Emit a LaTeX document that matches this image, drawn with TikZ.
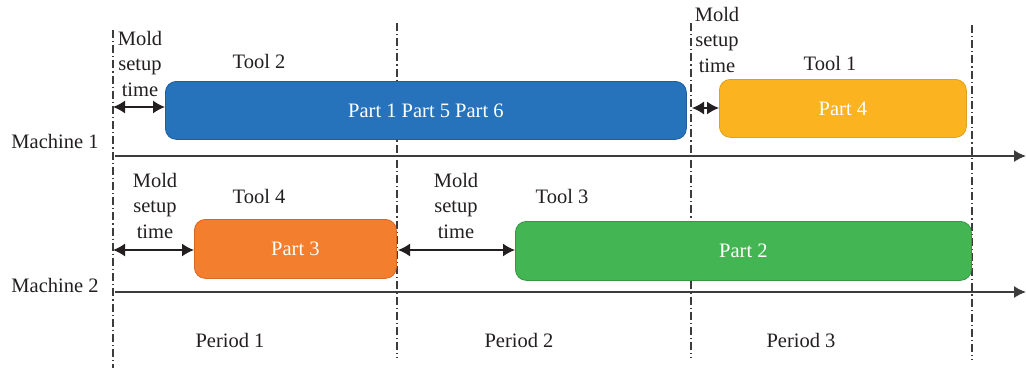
\documentclass[tikz,border=0pt]{standalone}
\usepackage{fontspec}
\setmainfont{Liberation Serif}
\usetikzlibrary{arrows.meta}
\definecolor{txt}{RGB}{35,31,32}
\definecolor{ln}{RGB}{60,60,60}
\definecolor{bluef}{RGB}{38,114,187}
\definecolor{blued}{RGB}{30,94,158}
\definecolor{yelf}{RGB}{251,179,31}
\definecolor{yeld}{RGB}{225,160,30}
\definecolor{oraf}{RGB}{242,126,46}
\definecolor{orad}{RGB}{215,105,40}
\definecolor{grnf}{RGB}{67,181,83}
\definecolor{grnd}{RGB}{55,150,70}
\tikzset{
  lbl/.style={text=txt,font=\fontsize{20.5}{25.5}\selectfont,inner sep=0pt,anchor=base,align=center},
  part/.style={rounded corners=11pt,line width=0.8pt,anchor=north west,inner sep=0pt,
    text=white,font=\fontsize{20.5}{24}\selectfont},
  period/.style={draw=ln,line width=1.3pt,dash pattern=on 8pt off 3pt on 1.2pt off 3pt},
  axis/.style={draw=ln,line width=1.5pt,-{Latex[length=12pt,width=12pt]}},
  setup/.style={draw=txt,line width=1.5pt,{Latex[length=12pt,width=13pt]}-{Latex[length=12pt,width=13pt]}}
}
\begin{document}
\begin{tikzpicture}[x=1pt,y=-1pt]
\useasboundingbox (0,0) rectangle (1026,368);
% period boundaries
\coordinate (v1t) at (113,30);  \coordinate (v1b) at (113,368);
\coordinate (v2t) at (397,23);  \coordinate (v2b) at (397,358);
\coordinate (v3t) at (691,23);  \coordinate (v3b) at (691,358);
\coordinate (v4t) at (972,25);  \coordinate (v4b) at (972,360);
\draw[period] (v1t) -- (v1b);
\draw[period] (v2t) -- (v2b);
\draw[period] (v3t) -- (v3b);
\draw[period] (v4t) -- (v4b);
% axes
\coordinate (m1s) at (115,156); \coordinate (m1e) at (1026,156);
\coordinate (m2s) at (115,292); \coordinate (m2e) at (1026,292);
\draw[axis] (m1s) -- (m1e);
\draw[axis] (m2s) -- (m2e);
\node[lbl] (mach1) at (55,148) {Machine 1};
\node[lbl] (mach2) at (55,292) {Machine 2};
% parts
\node[part,fill=bluef,draw=blued,minimum width=521pt,minimum height=58pt] (p156) at (165,81) {Part 1 Part 5 Part 6};
\node[part,fill=yelf,draw=yeld,minimum width=247pt,minimum height=58pt] (p4) at (719,79) {Part 4};
\node[part,fill=oraf,draw=orad,minimum width=202pt,minimum height=59pt] (p3) at (194,219) {Part 3};
\node[part,fill=grnf,draw=grnd,minimum width=456pt,minimum height=59pt] (p2) at (515,221) {Part 2};
% tools
\node[lbl] (t2) at (259,68) {Tool 2};
\node[lbl] (t1) at (830,70) {Tool 1};
\node[lbl] (t4) at (259,203) {Tool 4};
\node[lbl] (t3) at (562,203) {Tool 3};
% setup labels (anchor = baseline of last line)
\node[lbl] (s1) at (140,96) {Mold\\setup\\time};
\node[lbl] (s2) at (717,72) {Mold\\setup\\time};
\node[lbl] (s3) at (155,238) {Mold\\setup\\time};
\node[lbl] (s4) at (456,238) {Mold\\setup\\time};
% setup arrows
\coordinate (a1) at (113,107);
\coordinate (a2) at (692,108);
\coordinate (a3) at (113,250);
\coordinate (a4) at (398,250);
\draw[setup] (a1) -- (a1 -| p156.west);
\draw[setup] (a2) -- (a2 -| p4.west);
\draw[setup] (a3) -- (a3 -| p3.west);
\draw[setup] (a4) -- (a4 -| p2.west);
% periods
\node[lbl] (per1) at (230,347) {Period 1};
\node[lbl] (per2) at (519,347) {Period 2};
\node[lbl] (per3) at (801,347) {Period 3};
\end{tikzpicture}
\end{document}
